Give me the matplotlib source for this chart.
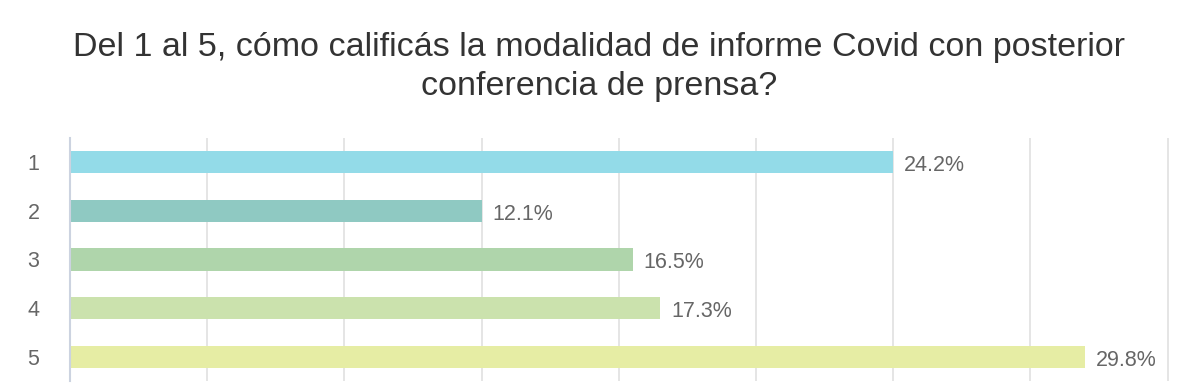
import matplotlib
matplotlib.use("Agg")
import matplotlib.pyplot as plt
import numpy as np

plt.rcParams['font.family'] = ['Liberation Sans', 'DejaVu Sans']

categories = ["1", "2", "3", "4", "5"]
counts = [60, 30, 41, 43, 74]
percent_labels = ["24.2%", "12.1%", "16.5%", "17.3%", "29.8%"]
colors = ["#93dbe8", "#8fc9c2", "#afd5ab", "#cbe2ad", "#e6eda4"]
title = "Del 1 al 5, cómo calificás la modalidad de informe Covid con posterior\nconferencia de prensa?"

fig = plt.figure(figsize=(11.98, 3.85), dpi=100)
ax = fig.add_axes([0.0584, 0.0104, 0.9174, 0.6312])

y = np.arange(len(categories))
ax.barh(y, counts, height=0.46, color=colors, zorder=2)
for yi, c, lab in zip(y, counts, percent_labels):
    ax.text(c + 0.8, yi + 0.07, lab, va='center', ha='left', fontsize=15.5, color='#666666')

ax.set_xlim(0, 80.1)
ax.set_ylim(len(categories) - 0.5, -0.5)
ax.set_xticks(np.arange(0, 81, 10))
ax.set_xticklabels([])
ax.tick_params(axis='x', length=0)
ax.set_yticks(y)
ax.set_yticklabels(categories, fontsize=15.5, color='#666666')
ax.tick_params(axis='y', length=0, pad=22)
ax.grid(axis='x', color='#e3e3e3', linewidth=1.3, zorder=0)
for s in ['top', 'right', 'bottom']:
    ax.spines[s].set_visible(False)
ax.spines['left'].set_color('#ccd3e0')
ax.spines['left'].set_linewidth(1.5)
ax.spines['left'].set_zorder(3)

fig.text(0.5, 0.825, title, ha='center', va='center', fontsize=24.5, color='#333333', linespacing=1.33)

fig.savefig("out.png", dpi=100)
